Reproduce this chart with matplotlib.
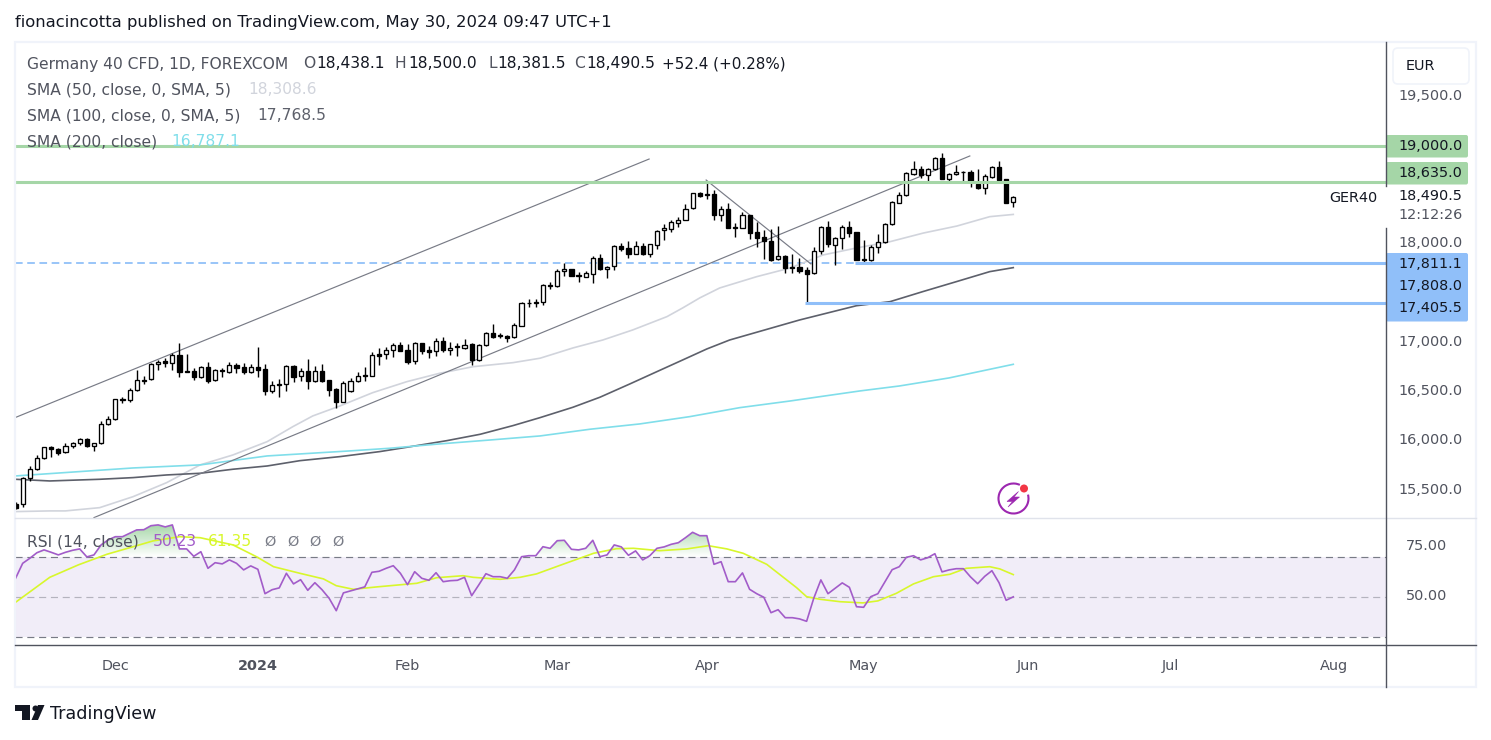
import numpy as np
import matplotlib
matplotlib.use('Agg')
import matplotlib.pyplot as plt
from matplotlib.patches import Rectangle, FancyBboxPatch, Circle, Polygon, Arc
from matplotlib.path import Path

plt.rcParams['font.family'] = ['DejaVu Sans']

# daily candles, Germany 40, first one is cut off by the left edge
candle_open = [15370, 15366, 15630, 15721, 15833, 15945, 15924, 15894, 15955, 15989, 16026, 15962, 15985, 16178, 16229, 16432,
               16422, 16523, 16621, 16635, 16787, 16817, 16797, 16878, 16716, 16716, 16662, 16757, 16625, 16726, 16713,
               16777, 16757, 16706, 16757, 16736, 16520, 16587, 16584, 16770, 16665, 16716, 16621, 16716, 16625, 16533,
               16408, 16520, 16618, 16679, 16672, 16893, 16889, 16930, 16981, 16930, 16818, 17001, 16930, 16920, 17021,
               16937, 16974, 16957, 16991, 16828, 16981, 17109, 17082, 17079, 17062, 17180, 17414, 17410, 17417, 17593,
               17579, 17732, 17752, 17691, 17677, 17708, 17864, 17752, 17786, 17985, 17965, 17911, 17985, 17911, 18002,
               18148, 18165, 18225, 18256, 18371, 18526, 18516, 18513, 18306, 18364, 18178, 18174, 18299, 18127, 18076,
               18039, 17853, 17883, 17775, 17772, 17741, 17711, 17934, 18178, 18002, 18066, 18178, 18127, 17856, 17843,
               17975, 18025, 18208, 18428, 18502, 18722, 18766, 18712, 18766, 18878, 18672, 18716, 18743, 18739, 18614,
               18580, 18692, 18787, 18665, 18438.1]
candle_high = [15385, 15647, 15755, 15867, 15951, 15958, 15941, 15992, 15995, 16043, 16036, 15992, 16209, 16263, 16432, 16459,
               16550, 16730, 16669, 16797, 16831, 16848, 16899, 17000, 16892, 16746, 16770, 16807, 16736, 16746, 16807,
               16797, 16804, 16787, 16960, 16790, 16621, 16638, 16780, 16780, 16753, 16838, 16770, 16790, 16628, 16543,
               16615, 16649, 16706, 16763, 16916, 16950, 16960, 17008, 17011, 16994, 17014, 17005, 16974, 17052, 17062,
               17018, 17001, 17045, 17001, 16994, 17112, 17194, 17102, 17082, 17211, 17424, 17447, 17454, 17600, 17623,
               17752, 17813, 17759, 17728, 17738, 17887, 17904, 17786, 17995, 18016, 18036, 18036, 18016, 18009, 18147,
               18209, 18253, 18286, 18412, 18530, 18540, 18651, 18557, 18398, 18421, 18218, 18330, 18306, 18232, 18151,
               18157, 18191, 17897, 17904, 17863, 17778, 17975, 18191, 18239, 18083, 18201, 18239, 18130, 18049, 17995,
               18110, 18225, 18442, 18540, 18736, 18851, 18800, 18776, 18888, 18932, 18729, 18810, 18746, 18760, 18770,
               18716, 18800, 18851, 18672, 18500.0]
candle_low = [15320, 15336, 15606, 15715, 15823, 15850, 15870, 15891, 15941, 15972, 15951, 15911, 15982, 16175, 16225, 16391,
              16401, 16516, 16587, 16628, 16730, 16757, 16730, 16662, 16709, 16628, 16652, 16601, 16621, 16655, 16702,
              16702, 16689, 16702, 16655, 16476, 16493, 16452, 16520, 16608, 16621, 16540, 16611, 16611, 16466, 16347,
              16405, 16510, 16608, 16615, 16665, 16781, 16842, 16866, 16923, 16791, 16791, 16893, 16855, 16876, 16916,
              16882, 16876, 16943, 16784, 16825, 16974, 17058, 17052, 17014, 17058, 17177, 17366, 17373, 17390, 17556,
              17576, 17684, 17684, 17627, 17671, 17617, 17745, 17667, 17745, 17941, 17870, 17904, 17901, 17880, 17962,
              18050, 18134, 18185, 18253, 18368, 18489, 18469, 18252, 18245, 18171, 18083, 18171, 18059, 17981, 17860,
              17839, 17846, 17718, 17718, 17718, 17406, 17707, 17907, 17981, 17795, 17961, 18083, 17846, 17819, 17839,
              17914, 18022, 18205, 18421, 18496, 18709, 18675, 18648, 18760, 18668, 18651, 18712, 18634, 18590, 18563,
              18516, 18682, 18651, 18421, 18381.5]
candle_close = [15330, 15630, 15721, 15833, 15945, 15924, 15891, 15955, 15992, 16026, 15962, 15985, 16178, 16229, 16432, 16425,
                16523, 16625, 16628, 16790, 16814, 16797, 16878, 16713, 16713, 16662, 16757, 16621, 16726, 16719, 16777,
                16753, 16706, 16757, 16733, 16520, 16574, 16581, 16770, 16662, 16716, 16621, 16716, 16621, 16530, 16405,
                16601, 16621, 16669, 16669, 16879, 16876, 16930, 16981, 16926, 16815, 17001, 16926, 16916, 17021, 16937,
                16957, 16967, 16987, 16828, 16981, 17109, 17068, 17075, 17058, 17184, 17407, 17407, 17417, 17589, 17586,
                17732, 17752, 17688, 17684, 17711, 17867, 17752, 17779, 17985, 17962, 17911, 17985, 17911, 18006, 18144,
                18168, 18229, 18256, 18368, 18523, 18496, 18502, 18306, 18364, 18174, 18171, 18299, 18124, 18073, 18036,
                17846, 17883, 17768, 17768, 17734, 17707, 17934, 18178, 18005, 18066, 18178, 18124, 17850, 17843, 17975,
                18025, 18208, 18431, 18502, 18726, 18766, 18709, 18766, 18878, 18672, 18716, 18739, 18736, 18638, 18573,
                18695, 18787, 18658, 18428, 18490.5]

sma50_idx = [0, 4.8, 7, 11.8, 16.5, 21.2, 25.9, 30.5, 35.3, 38.9, 41.7, 45.5, 50.1, 54.9, 59.5, 64.2, 69.8, 73.6, 78.2,
             82.4, 86.6, 91.4, 93.6, 96, 98.8, 104, 108.7, 113.3, 118, 122.7, 127.4, 132.1, 136.7, 140]
sma50_val = [15292, 15299, 15299, 15332, 15444, 15586, 15766, 15867, 16002, 16154, 16263, 16364, 16499, 16611, 16696,
             16763, 16804, 16849, 16953, 17034, 17136, 17271, 17359, 17461, 17562, 17677, 17765, 17897, 17968, 18032,
             18120, 18191, 18286, 18308.6]
sma100_idx = [0, 4.8, 11.8, 16.5, 21.2, 25.9, 30.5, 35.3, 39.9, 45.5, 51.1, 54.9, 60.5, 65.2, 69.8, 73.6, 78.2, 82,
              86.2, 90, 93.6, 97, 100.2, 110, 118, 122.7, 127.3, 132, 136.7, 140]
sma100_val = [15620, 15603, 15620, 15637, 15664, 15681, 15722, 15755, 15809, 15850, 15901, 15945, 16012, 16077, 16165,
              16246, 16351, 16453, 16588, 16713, 16831, 16943, 17034, 17237, 17382, 17423, 17525, 17626, 17728, 17768.5]
sma200_idx = [0, 16.5, 25.9, 35.3, 46.9, 52.5, 59.5, 66.6, 73.6, 80.6, 87.6, 94.6, 101.6, 108.7, 112.9, 118.5, 124, 131, 140]
sma200_val = [15654, 15735, 15766, 15857, 15908, 15935, 15979, 16019, 16060, 16128, 16182, 16256, 16347, 16415, 16459,
              16517, 16567, 16649, 16787.1]

# drawn trend lines: (start index, start price, end index, end price)
trend_lines = [(0, 16248, 88.9, 18871), (11, 15231, 133.9, 18902), (96.9, 18658, 111.6, 17806)]

green_levels = [19000.0, 18635.0]
blue_levels = [17811.1, 17405.5]
blue_starts = [117.8, 110.8]

rsi_val = [59.5, 67, 69.5, 72.3, 73.7, 72.5, 71.2, 72.5, 73.5, 74.2, 70.2, 71.2, 76.2, 78.7, 80.3, 80.3, 82, 83.7, 83.8,
           85.8, 86.2, 85.2, 86.2, 74.2, 74.2, 70.5, 72.8, 64.5, 67.3, 66.7, 68.7, 67, 63.7, 65.7, 64, 51.8, 53.8, 54.7,
           62, 56.7, 58.8, 53.5, 57.3, 53.8, 49.5, 43.3, 52.2, 53.2, 54.2, 55.2, 62.5, 63, 64.5, 65.8, 62, 56.3, 62.8,
           59.5, 58.5, 62.3, 57.8, 58.3, 58.5, 60, 50.8, 56.2, 61.8, 60.3, 60.3, 59.5, 63.7, 70.3, 70.8, 70.8, 75.3, 74.5,
           78.3, 78.5, 74, 73.7, 74.5, 78.5, 70.3, 71.2, 76.2, 75.2, 71, 73.2, 68.7, 70.8, 74.5, 75.2, 76.5, 77.3, 79.8,
           82.5, 80.8, 80.8, 66.5, 67.8, 57.8, 57.8, 62.2, 54, 51.8, 50, 42.3, 43.8, 39.8, 39.8, 39.2, 38, 49.5, 58.7, 51.8,
           54.5, 57.2, 55, 45.3, 45, 50.3, 51.8, 57.8, 63.8, 65.3, 70, 70.8, 68.7, 69.8, 71.8, 62.7, 63.7, 64.3, 64.3, 60.2,
           56.8, 60.5, 63.3, 57.3, 48.5, 50.23]
rsi_ma_idx = [0, 4.8, 8.8, 12.8, 16.5, 19.3, 23, 25.9, 30.5, 33.8, 36.2, 39.9, 43.2, 45, 47.4, 50.7, 56.3, 59.1, 62.8, 64.2,
              68, 70.8, 73.1, 76.8, 81.1, 84.3, 86.7, 90.4, 94.2, 97.2, 99.8, 102.1, 105.4, 109.6, 111, 112.9, 115.7,
              118.9, 121, 123.6, 126, 128.8, 131.1, 133.4, 136.7, 138.1, 140]
rsi_ma_val = [47.5, 60, 66.2, 71.5, 75.3, 78.2, 80.3, 79.8, 76.2, 70.3, 65.3, 62, 59.2, 55.8, 54, 55.2, 57, 59.8, 60.8, 60,
              59, 60, 61.7, 66.5, 72, 74.3, 74.5, 73.3, 74.2, 75.8, 74.2, 72, 66.5, 54.8, 50.3, 49, 47.8, 47.2, 48.2, 52,
              56.7, 60.3, 61.5, 64.5, 65.3, 64.2, 61.35]

month_ticks = [14, 34, 55, 76, 97, 119, 142, 162, 185]
month_labels = ['Dec', '2024', 'Feb', 'Mar', 'Apr', 'May', 'Jun', 'Jul', 'Aug']
price_ticks = [15500, 16000, 16500, 17000, 18000, 19500]
rsi_ticks = [50, 75]

W, H = 1491, 740
GREY = '#50535e'
GREEN = '#a5d6a7'
BLUE = '#90bff9'
PURPLE = '#a25cc9'
LIME = '#d8f72c'
FONT_SIZE = 10.4
LEGEND_SIZE = 11.2


def axes_box(left, top, right, bottom):
    return [left / W, 1 - bottom / H, (right - left) / W, (bottom - top) / H]


fig = plt.figure(figsize=(W / 100, H / 100), dpi=100, facecolor='white')
ax = fig.add_axes(axes_box(15, 42, 1386, 518))
ax_rsi = fig.add_axes(axes_box(15, 518, 1386, 645))
over = fig.add_axes([0, 0, 1, 1], zorder=10)
over.set_xlim(0, W)
over.set_ylim(H, 0)
over.axis('off')
over.patch.set_alpha(0)

idx = np.arange(len(candle_open))
xlim = (-0.08, 192.3)

# candles
for i, o, h, l, c in zip(idx, candle_open, candle_high, candle_low, candle_close):
    ax.vlines(i, l, h, color='black', lw=1.0, zorder=4)
    up = c >= o
    ax.bar(i, abs(c - o), bottom=min(o, c), width=0.58, facecolor='white' if up else 'black',
           edgecolor='black', lw=0.95, zorder=5)

ax.plot(sma50_idx, sma50_val, color='#d1d4dc', lw=1.2, zorder=3)
ax.plot(sma100_idx, sma100_val, color='#5d606b', lw=1.2, zorder=3)
ax.plot(sma200_idx, sma200_val, color='#80deea', lw=1.2, zorder=3)

for x0, y0, x1, y1 in trend_lines:
    ax.plot([x0, x1], [y0, y1], color='#787b86', lw=0.85, zorder=3)

for level in green_levels:
    ax.hlines(level, xlim[0], xlim[1], color=GREEN, lw=2.2, zorder=6)
for level, start in zip(blue_levels, blue_starts):
    ax.hlines(level, start, xlim[1], color=BLUE, lw=2.2, zorder=6)
ax.plot([xlim[0], blue_starts[0]], [blue_levels[0], blue_levels[0]], color='#7db5f7', lw=1.1, ls=(0, (5, 3)), zorder=2, snap=True)

ax.set_xlim(xlim)
ax.set_ylim(15227, 20059)
ax.set_xticks([])
ax.set_yticks([])
for spine in ax.spines.values():
    spine.set_visible(False)

# scale numbers sit a little above the exact price, like the original
for p in price_ticks:
    ax.annotate(f'{p:,.1f}', xy=(1, p), xycoords=('axes fraction', 'data'), xytext=(12, 1.5), textcoords='offset pixels',
                color=GREY, fontsize=FONT_SIZE, va='center', annotation_clip=False)

# rsi pane
rsi = np.array(rsi_val)
ax_rsi.axhspan(30, 70, color='#7e57c2', alpha=0.1, lw=0, zorder=1)
ax_rsi.axhline(70, color='#787b86', lw=0.85, ls=(0, (6, 4)), zorder=2)
ax_rsi.axhline(50, color='#787b86', lw=0.85, ls=(0, (6, 4)), alpha=0.5, zorder=2)
ax_rsi.axhline(30, color='#787b86', lw=0.85, ls=(0, (6, 4)), zorder=2)

region = ax_rsi.fill_between(idx, rsi, 70, where=rsi > 70, interpolate=True, facecolor='none', lw=0)
clip = Path.make_compound_path(*region.get_paths())
grad = np.zeros((100, 2, 4))
grad[..., :3] = matplotlib.colors.to_rgb('#66bb6a')
grad[..., 3] = np.linspace(0.6, 0, 100)[:, None]
img = ax_rsi.imshow(grad, extent=(xlim[0], xlim[1], 70, 87), aspect='auto', origin='upper', zorder=2)
img.set_clip_path(clip, ax_rsi.transData)

ax_rsi.plot(rsi_ma_idx, rsi_ma_val, color=LIME, lw=1.2, zorder=3)
ax_rsi.plot(idx, rsi, color=PURPLE, lw=1.2, zorder=4)

ax_rsi.set_xlim(xlim)
ax_rsi.set_ylim(26.15, 89.65)
ax_rsi.set_yticks([])
for v in rsi_ticks:
    ax_rsi.annotate(f'{v:.2f}', xy=(1, v), xycoords=('axes fraction', 'data'), xytext=(20, 1), textcoords='offset pixels',
                    color=GREY, fontsize=FONT_SIZE, va='center', annotation_clip=False)
ax_rsi.set_xticks(month_ticks)
ax_rsi.set_xticklabels(month_labels, color=GREY, fontsize=FONT_SIZE)
ax_rsi.get_xticklabels()[1].set_fontweight('bold')
ax_rsi.tick_params(axis='x', length=0, pad=10)
for spine in ax_rsi.spines.values():
    spine.set_visible(False)


def label(x, y, s, color=GREY, size=LEGEND_SIZE, ha='left', **kw):
    over.text(x, y, s, color=color, fontsize=size, ha=ha, va='center', **kw)


# frame and pane separators
over.add_patch(Rectangle((15, 41.5), 1461, 645.5, fill=False, ec='#f0f3fa', lw=1.6))
over.plot([15, 1476], [518, 518], color='#e0e3eb', lw=1)
over.plot([15, 1476], [645, 645], color=GREY, lw=1)
over.plot([1386, 1386], [42, 186], color=GREY, lw=1)
over.plot([1386, 1386], [228, 687], color=GREY, lw=1)

# text
label(15, 23, 'fionacincotta published on TradingView.com, May 30, 2024 09:47 UTC+1', color='#131722', size=11.75)
label(27, 64, 'Germany 40 CFD, 1D, FOREXCOM')
ohlc = [(303, 'O', 13, 18438.1), (395, 'H', 13, 18500.0), (488, 'L', 9, 18381.5), (574, 'C', 12, 18490.5)]
for x, name, gap, val in ohlc:
    label(x, 64, name)
    label(x + gap, 64, f'{val:,.1f}', color='#131722')
label(662, 64, '+52.4 (+0.28%)', color='#131722', size=10.9)
label(27, 90, 'SMA (50, close, 0, SMA, 5)')
label(248, 90, '18,308.6', color='#d1d4dc')
label(27, 116, 'SMA (100, close, 0, SMA, 5)')
label(257, 116, '17,768.5', color='#5d606b')
label(27, 142, 'SMA (200, close)')
label(171, 142, '16,787.1', color='#80deea')
label(27, 542, 'RSI (14, close)')
label(153, 542, '50.23', color=PURPLE)
label(208, 542, '61.35', color=LIME)
for x in [264, 287, 309, 332]:
    label(x, 542, '\u00d8', color='#787b86', size=FONT_SIZE)

# scale labels on the right
over.add_patch(FancyBboxPatch((1393, 48), 76, 36, boxstyle='round,pad=0,rounding_size=5', fc='white', ec='#f0f3fa', lw=1.2))
label(1406, 66, 'EUR', color='#131722', size=FONT_SIZE)
for top, bottom, val in [(135, 157.5, '19,000.0'), (162, 184.5, '18,635.0')]:
    over.add_patch(FancyBboxPatch((1386, top), 82, bottom - top, boxstyle='round,pad=0,rounding_size=2', fc=GREEN, ec='none'))
    label(1398, (top + bottom) / 2 - 0.5, val, color='#131722', size=FONT_SIZE)
over.add_patch(FancyBboxPatch((1386, 253), 82, 68.5, boxstyle='round,pad=0,rounding_size=2', fc=BLUE, ec='none'))
for y, val in [(263.5, '17,811.1'), (286, '17,808.0'), (308.5, '17,405.5')]:
    label(1398, y, val, color='#131722', size=FONT_SIZE)
label(1398, 196, '18,490.5', color='#131722', size=FONT_SIZE)
label(1398, 215, '12:12:26', color=GREY, size=FONT_SIZE)
label(1378, 198, 'GER40', color='#131722', ha='right', size=FONT_SIZE)

# alert icon
over.add_patch(Arc((1013.5, 498.5), 30, 30, theta1=-15, theta2=295, ec='#9c27b0', lw=1.5))
over.add_patch(Polygon([(1018.5, 491.5), (1007, 501.5), (1012.5, 501.5), (1008, 507), (1019.5, 497), (1014, 497)],
                       fc='#9c27b0', ec='#9c27b0', lw=0.4))
over.add_patch(Circle((1024, 488.5), 4, fc='#f23645', ec='none'))

# tradingview logo
over.add_patch(Polygon([(15, 705), (30, 705), (30, 720), (22, 720), (22, 711), (15, 711)], fc='#131722', ec='none'))
over.add_patch(Circle((35.5, 708.5), 3, fc='#131722', ec='none'))
over.add_patch(Polygon([(38, 705), (44.5, 705), (38, 720), (31.5, 720)], fc='#131722', ec='none'))
label(50, 714, 'TradingView', color='#131722', size=12.6)

fig.savefig('out.png', dpi=100, facecolor='white')
